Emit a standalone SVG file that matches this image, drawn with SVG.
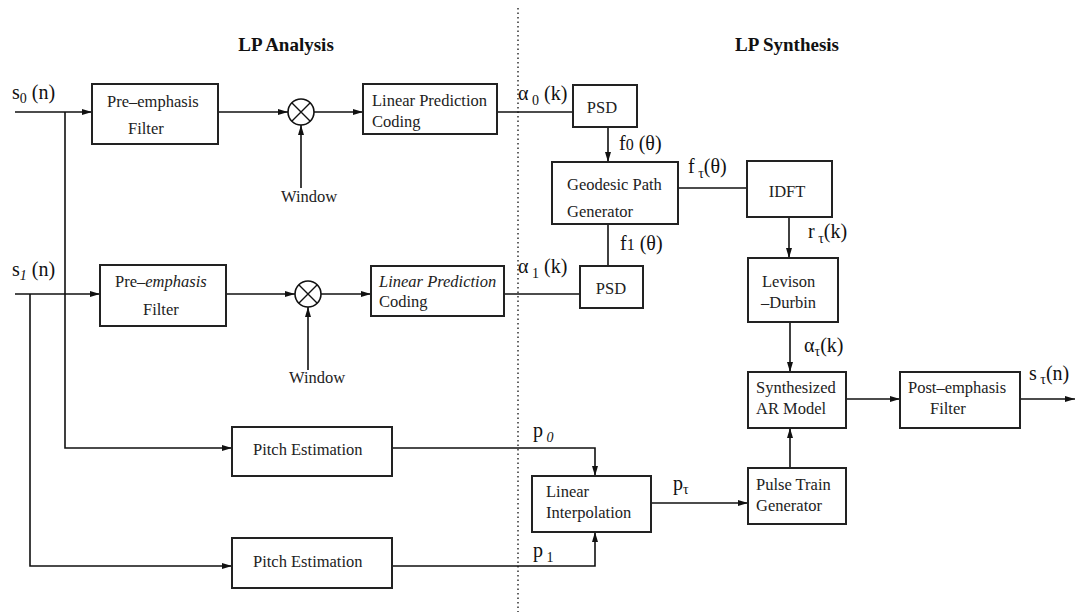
<svg xmlns="http://www.w3.org/2000/svg" width="1076" height="612" viewBox="0 0 1076 612">
<style>
.box{fill:#fff;stroke:#222;stroke-width:2}
.ln{fill:none;stroke:#111;stroke-width:1.6}
.t{font-family:"Liberation Serif","Times New Roman",serif;font-size:16.5px;fill:#222}
.lb{font-family:"Liberation Serif","Times New Roman",serif;font-size:20px;fill:#111}
.sub{font-size:14px}
.h{font-family:"Liberation Serif","Times New Roman",serif;font-size:19px;font-weight:bold;fill:#111}
</style>
<defs>
<marker id="ah" viewBox="0 0 10 6" refX="10" refY="3" markerWidth="10" markerHeight="6" markerUnits="userSpaceOnUse" orient="auto">
<path d="M0,0 L10,3 L0,6 z" fill="#111"/>
</marker>
</defs>
<rect width="1076" height="612" fill="#fff"/>
<line x1="518" y1="8" x2="518" y2="612" stroke="#111" stroke-width="1.3" stroke-dasharray="1.5,3"/>
<text class="h" x="286" y="51" text-anchor="middle">LP Analysis</text>
<text class="h" x="787" y="51" text-anchor="middle">LP Synthesis</text>

<g id="connectors">
<path class="ln" d="M15,112 H92" marker-end="url(#ah)"/>
<path class="ln" d="M65,112 V448 H232" marker-end="url(#ah)"/>
<path class="ln" d="M218,112 H288" marker-end="url(#ah)"/>
<path class="ln" d="M301,188 V125" marker-end="url(#ah)"/>
<path class="ln" d="M314,112 H363" marker-end="url(#ah)"/>
<path class="ln" d="M497,112 H573"/>
<path class="ln" d="M608,127 V162" marker-end="url(#ah)"/>
<path class="ln" d="M678,188 H747"/>
<path class="ln" d="M789,217 V258" marker-end="url(#ah)"/>
<path class="ln" d="M790,322 V372" marker-end="url(#ah)"/>
<path class="ln" d="M846,399 H900" marker-end="url(#ah)" stroke-width="1.2"/>
<path class="ln" d="M1020,399 H1075" marker-end="url(#ah)"/>
<path class="ln" d="M15,294 H100" marker-end="url(#ah)"/>
<path class="ln" d="M30,294 V566 H232" marker-end="url(#ah)"/>
<path class="ln" d="M226,294 H295" marker-end="url(#ah)"/>
<path class="ln" d="M308,370 V307" marker-end="url(#ah)"/>
<path class="ln" d="M321,294 H371" marker-end="url(#ah)"/>
<path class="ln" d="M504,294 H580"/>
<path class="ln" d="M608,266 V224"/>
<path class="ln" d="M392,448 H595 V476" marker-end="url(#ah)"/>
<path class="ln" d="M392,566 H595 V532" marker-end="url(#ah)"/>
<path class="ln" d="M651,503 H748" marker-end="url(#ah)"/>
<path class="ln" d="M790,468 V428" marker-end="url(#ah)"/>
</g>

<g id="labels">
<text class="lb" x="12" y="99">s<tspan class="sub" dy="4">0</tspan><tspan dy="-4"> (n)</tspan></text>
<text class="lb" x="12" y="276">s<tspan class="sub" dy="4" font-style="italic">1</tspan><tspan dy="-4"> (n)</tspan></text>
<text class="lb" x="518" y="100">α<tspan class="sub" dy="5"> 0</tspan><tspan dy="-5"> (k)</tspan></text>
<text class="lb" x="518" y="273">α<tspan class="sub" dy="5"> 1</tspan><tspan dy="-5"> (k)</tspan></text>
<text class="lb" x="619" y="150">f<tspan font-size="16">0</tspan> (θ)</text>
<text class="lb" x="620" y="250">f<tspan font-size="16">1</tspan> (θ)</text>
<text class="lb" x="688" y="173">f<tspan class="sub" dy="5"> τ</tspan><tspan dy="-5">(θ)</tspan></text>
<text class="lb" x="808" y="238">r<tspan class="sub" dy="5"> τ</tspan><tspan dy="-5">(k)</tspan></text>
<text class="lb" x="804" y="352">α<tspan class="sub" dy="4">τ</tspan><tspan dy="-4">(k)</tspan></text>
<text class="lb" x="1029" y="380">s<tspan class="sub" dy="4"> τ</tspan><tspan dy="-4">(n)</tspan></text>
<text class="lb" x="533" y="437">p<tspan class="sub" dy="5" font-style="italic"> 0</tspan></text>
<text class="lb" x="533" y="557">p<tspan class="sub" dy="5"> 1</tspan></text>
<text class="lb" x="673" y="490">p<tspan class="sub" dy="4">τ</tspan></text>
<text class="t" x="281" y="202">Window</text>
<text class="t" x="289" y="383">Window</text>
</g>

<g id="preemph0">
<rect class="box" x="92" y="84" width="126" height="60"/>
<text class="t" x="107" y="107" font-size="17.5">Pre–emphasis</text>
<text class="t" x="128" y="134" font-size="17.5">Filter</text>
</g>
<g id="mult0">
<circle cx="301" cy="112" r="13" fill="#fff" stroke="#111" stroke-width="1.6"/>
<path d="M292,103 L310,121 M310,103 L292,121" stroke="#111" stroke-width="1.4"/>
</g>
<g id="lpc0">
<rect class="box" x="363" y="84" width="134" height="50"/>
<text class="t" x="372" y="106">Linear Prediction</text>
<text class="t" x="372" y="127">Coding</text>
</g>
<g id="psd0">
<rect class="box" x="573" y="85" width="64" height="42"/>
<text class="t" x="602" y="113" text-anchor="middle">PSD</text>
</g>
<g id="geodesic">
<rect class="box" x="552" y="162" width="126" height="62"/>
<text class="t" x="567" y="190">Geodesic Path</text>
<text class="t" x="567" y="217">Generator</text>
</g>
<g id="idft">
<rect class="box" x="747" y="161" width="85" height="56"/>
<text class="t" x="787" y="197" text-anchor="middle">IDFT</text>
</g>
<g id="levinson">
<rect class="box" x="748" y="258" width="90" height="64"/>
<text class="t" x="762" y="287">Levison</text>
<text class="t" x="761" y="308">–Durbin</text>
</g>
<g id="preemph1">
<rect class="box" x="100" y="265" width="126" height="61"/>
<text class="t" x="115" y="287" font-size="17.5">Pre–<tspan font-style="italic">emphasis</tspan></text>
<text class="t" x="143" y="315" font-size="17.5">Filter</text>
</g>
<g id="mult1">
<circle cx="308" cy="294" r="13" fill="#fff" stroke="#111" stroke-width="1.6"/>
<path d="M299,285 L317,303 M317,285 L299,303" stroke="#111" stroke-width="1.4"/>
</g>
<g id="lpc1">
<rect class="box" x="371" y="266" width="133" height="50"/>
<text class="t" x="379" y="287" font-style="italic">Linear Prediction</text>
<text class="t" x="379" y="307">Coding</text>
</g>
<g id="psd1">
<rect class="box" x="580" y="266" width="63" height="42"/>
<text class="t" x="611" y="294" text-anchor="middle">PSD</text>
</g>
<g id="synth">
<rect class="box" x="748" y="372" width="98" height="56"/>
<text class="t" x="756" y="393">Synthesized</text>
<text class="t" x="756" y="414">AR Model</text>
</g>
<g id="postemph">
<rect class="box" x="900" y="372" width="120" height="56"/>
<text class="t" x="908" y="393">Post–emphasis</text>
<text class="t" x="930" y="414">Filter</text>
</g>
<g id="pulse">
<rect class="box" x="748" y="468" width="98" height="56"/>
<text class="t" x="756" y="490">Pulse Train</text>
<text class="t" x="756" y="511">Generator</text>
</g>
<g id="pitch0">
<rect class="box" x="232" y="427" width="160" height="49"/>
<text class="t" x="253" y="455">Pitch Estimation</text>
</g>
<g id="pitch1">
<rect class="box" x="232" y="538" width="160" height="50"/>
<text class="t" x="253" y="567">Pitch Estimation</text>
</g>
<g id="interp">
<rect class="box" x="532" y="476" width="119" height="56"/>
<text class="t" x="546" y="497">Linear</text>
<text class="t" x="546" y="518">Interpolation</text>
</g>
</svg>
